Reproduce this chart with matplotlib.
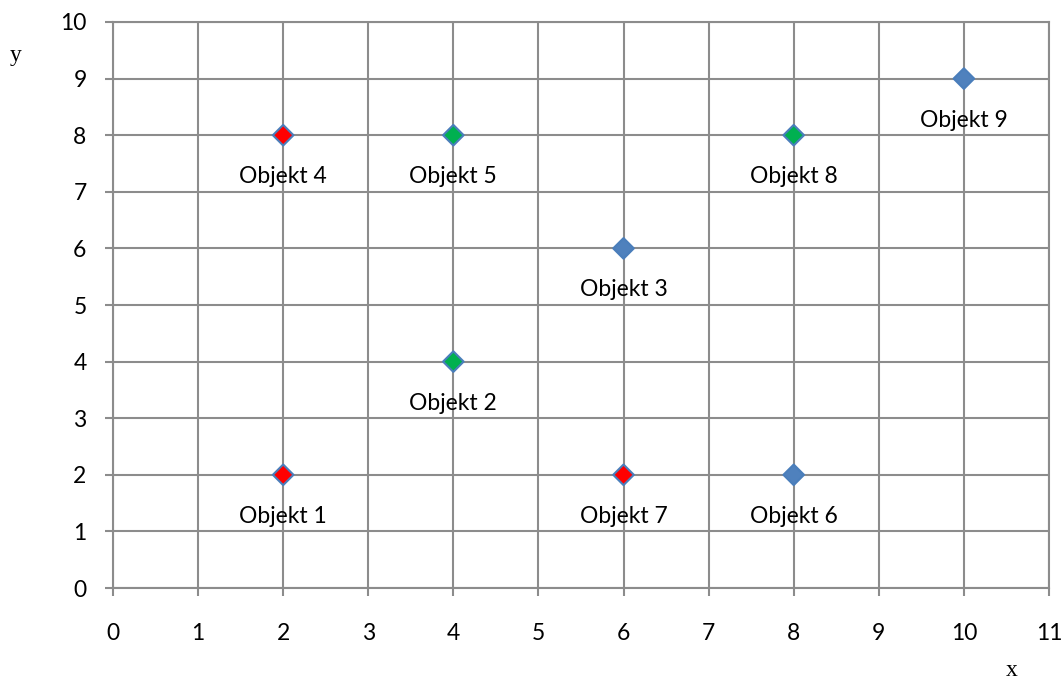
import matplotlib
matplotlib.use("Agg")
import matplotlib.pyplot as plt

names = ["Objekt 1", "Objekt 2", "Objekt 3", "Objekt 4", "Objekt 5",
         "Objekt 6", "Objekt 7", "Objekt 8", "Objekt 9"]
xs = [2, 4, 6, 2, 4, 8, 6, 8, 10]
ys = [2, 4, 6, 8, 8, 2, 2, 8, 9]
fills = ["#ff0000", "#00b050", "#4f81bd", "#ff0000", "#00b050",
         "#4f81bd", "#ff0000", "#00b050", "#4f81bd"]
xticks = list(range(0, 12))
yticks = list(range(0, 11))

fig = plt.figure(figsize=(10.63, 6.79), dpi=100)
ax = fig.add_axes([0.1063, 0.134, 0.8805, 0.8336])
ax.set_xlim(0, 11)
ax.set_ylim(0, 10)
ax.set_xticks(xticks)
ax.set_yticks(yticks)
gcol = "#8c8c8c"
ax.grid(True, color=gcol, linewidth=1.5)
ax.set_axisbelow(True)
for s in ax.spines.values():
    s.set_color(gcol)
    s.set_linewidth(1.5)
ax.tick_params(axis="both", direction="out", length=6, width=1.5, color=gcol,
               labelsize=16.5)
ax.tick_params(axis="x", pad=19)
ax.tick_params(axis="y", pad=13)
for lab in ax.get_xticklabels() + ax.get_yticklabels():
    lab.set_fontfamily("Lato")

ax.scatter(xs, ys, marker="D", s=110, c=fills, edgecolors="#4a7ebb",
           linewidths=1.5, zorder=3, clip_on=False)
for n, x, y in zip(names, xs, ys):
    ax.annotate(n, (x, y), xytext=(0, -34.5), textcoords="offset points",
                ha="center", va="baseline", fontsize=16.5, fontfamily="Lato")

fig.text(16 / 1063, 1 - 55 / 679, "y", fontsize=17, fontfamily="Liberation Serif",
         ha="center", va="center")
fig.text(1012 / 1063, 1 - 670 / 679, "x", fontsize=17, fontfamily="Liberation Serif",
         ha="center", va="center")

fig.savefig("out.png", dpi=100)
